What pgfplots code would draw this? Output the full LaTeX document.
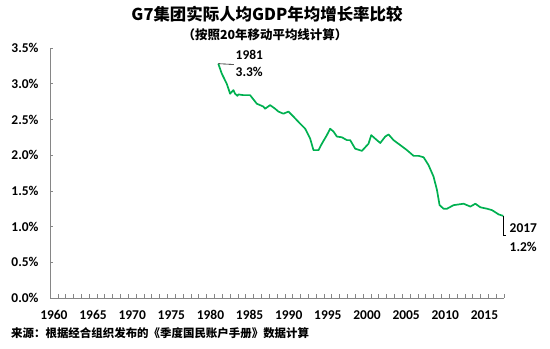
\documentclass[border=0pt]{standalone}
\usepackage{fontspec}
\setmainfont{Carlito}
\newfontfamily\cjk{Noto Sans CJK SC}
\usepackage{pgfplots}
\pgfplotsset{compat=1.18}
\definecolor{linegreen}{HTML}{00B050}
\definecolor{axgray}{HTML}{868686}
\begin{document}
\begin{tikzpicture}
\useasboundingbox (0,0) rectangle (550bp,349bp);
\begin{axis}[
  at={(50bp,51bp)}, anchor=south west,
  scale only axis, width=454bp, height=250bp,
  xmin=1959.5, xmax=2017.5, ymin=0, ymax=3.5,
  axis lines=left, axis line style={-, draw=axgray, line width=0.8bp},
  xtick={1960,1965,...,2015},
  minor xtick={1959.5,1960.5,...,2017.5},
  ytick={0,0.5,...,3.5},
  tick align=inside,
  major tick length=3bp, minor tick length=4bp,
  major x tick style={draw=none},
  tick style={draw=axgray, line width=0.6bp},
  /pgf/number format/assume math mode=true,
  xticklabel style={font=\bfseries\fontsize{13.5}{14}\selectfont, /pgf/number format/1000 sep={}, yshift=-9bp},
  yticklabel style={font=\bfseries\fontsize{13.5}{14}\selectfont, xshift=-8bp},
  yticklabel={\pgfmathprintnumber[fixed,fixed zerofill,precision=1]{\tick}\%},
  clip=false,
]
\addplot[linegreen, line width=1.7bp, line join=round] coordinates {
(1981.0,3.28) (1981.45,3.14) (1982.08,3.00) (1982.51,2.86) (1982.93,2.91)
(1983.15,2.86) (1983.44,2.83) (1983.57,2.85) (1984.21,2.84) (1985.06,2.84)
(1985.92,2.72) (1986.76,2.68) (1986.98,2.65) (1987.62,2.70) (1988.26,2.65)
(1988.68,2.61) (1989.32,2.58) (1989.96,2.61) (1990.60,2.54) (1991.46,2.44)
(1992.10,2.37) (1992.74,2.23) (1993.16,2.07) (1993.80,2.07) (1994.23,2.16)
(1994.87,2.28) (1995.29,2.37) (1995.72,2.33) (1996.15,2.26) (1996.79,2.25)
(1997.43,2.21) (1997.85,2.21) (1998.49,2.09) (1999.35,2.06) (2000.19,2.16)
(2000.54,2.28) (2001.05,2.23) (2001.69,2.17) (2002.33,2.26) (2002.75,2.29)
(2003.39,2.21) (2004.25,2.14) (2005.10,2.07) (2005.95,1.99) (2006.59,1.99)
(2007.23,1.97) (2007.86,1.86) (2008.50,1.70) (2008.94,1.51) (2009.27,1.30)
(2009.78,1.25) (2010.22,1.25) (2011.06,1.30) (2011.70,1.31) (2012.34,1.32)
(2013.20,1.28) (2013.84,1.32) (2014.48,1.27) (2015.33,1.25) (2015.97,1.23)
(2016.82,1.17) (2017.4,1.15)
};
\draw[black, line width=0.6bp] (axis cs:1981.0,3.28) -- (axis cs:1983.0,3.27);
\node[anchor=west, font=\bfseries\fontsize{13.5}{14}\selectfont, inner sep=0pt] at (axis cs:1983.2,3.41) {1981};
\node[anchor=west, font=\bfseries\fontsize{13.5}{14}\selectfont, inner sep=0pt] at (axis cs:1983.2,3.16) {3.3\%};
\draw[black, line width=0.6bp] (axis cs:2017.4,1.15) -- (axis cs:2017.4,0.88) -- (axis cs:2017.8,0.88);
\node[anchor=west, font=\bfseries\fontsize{13.5}{14}\selectfont, inner sep=0pt] at (axis cs:2018.2,0.98) {2017};
\node[anchor=west, font=\bfseries\fontsize{13.5}{14}\selectfont, inner sep=0pt] at (axis cs:2018.2,0.72) {1.2\%};
\end{axis}
\node[font=\cjk\bfseries\fontsize{16.5}{17}\selectfont, inner sep=0pt] at (267bp,335bp) {G7集团实际人均GDP年均增长率比较};
\node[font=\cjk\bfseries\fontsize{12.5}{13}\selectfont, inner sep=0pt] at (265bp,314bp) {（按照20年移动平均线计算）};
\node[anchor=west, font=\cjk\bfseries\fontsize{11.5}{12}\selectfont, inner sep=0pt] at (11bp,16bp) {来源：根据经合组织发布的《季度国民账户手册》数据计算};
\end{tikzpicture}
\end{document}
